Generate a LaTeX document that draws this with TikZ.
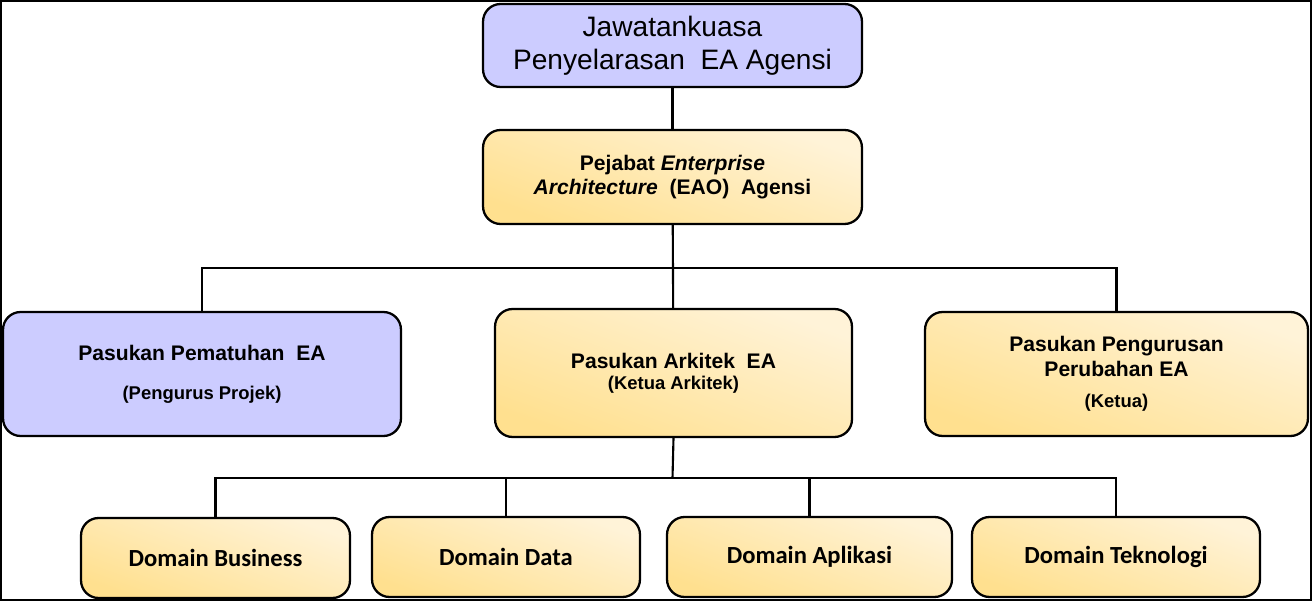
\documentclass[tikz,border=0pt]{standalone}
\usepackage{fontspec}
\setmainfont{Liberation Sans}
\newfontfamily\calib{Carlito}
\definecolor{lilac}{HTML}{CCCCFF}
\definecolor{sandlight}{HTML}{FFF3D8}
\definecolor{sanddark}{HTML}{FFE08F}

\begin{document}
\begin{tikzpicture}[x=0.02cm,y=-0.02cm,
  box/.style={draw=black, line width=1.3pt, rounded corners=10pt, align=center, inner sep=2pt},
  lilacbox/.style={box, fill=lilac},
  sandbox/.style={box, top color=sandlight, bottom color=sanddark, shading angle=-20},
  team/.style={font=\bfseries\fontsize{12}{14}\selectfont},
  domainbox/.style={sandbox, minimum height=1.6cm, font=\calib\bfseries\fontsize{14}{16}\selectfont},
  link/.style={line width=1.2pt}]
\useasboundingbox (0,0) rectangle (1312,601);
\fill[white] (0,0) rectangle (1312,601);
\draw[line width=2.6pt] (0,0) rectangle (1312,601);

% top levels
\node[lilacbox, minimum width=7.58cm, minimum height=1.66cm,
  font=\fontsize{16}{18.5}\selectfont] (jk) at (672.5,45.5)
  {Jawatankuasa\\Penyelarasan \ EA Agensi};
\node[sandbox, team, minimum width=7.58cm, minimum height=1.88cm] (eao) at (672.5,177)
  {Pejabat \textit{Enterprise}\\\textit{Architecture} \ (EAO) \ Agensi};

% teams
\node[lilacbox, team, minimum width=7.96cm, minimum height=2.48cm] (pematuhan) at (202,374)
  {Pasukan Pematuhan \ EA\\[8pt]{\fontsize{10.5}{12}\selectfont (Pengurus Projek)}};
\node[sandbox, team, minimum width=7.14cm, minimum height=2.56cm] (arkitek) at (673.5,373)
  {Pasukan Arkitek \ EA\\[-2pt]{\fontsize{10.5}{12}\selectfont (Ketua Arkitek)}};
\node[sandbox, team, minimum width=7.66cm, minimum height=2.48cm] (pengurusan) at (1116.5,374)
  {Pasukan Pengurusan\\Perubahan EA\\[4pt]{\fontsize{10.5}{12}\selectfont (Ketua)}};

% domains
\node[domainbox, minimum width=5.38cm] (dbusiness) at (215.5,558) {Domain Business};
\node[domainbox, minimum width=5.36cm] (ddata) at (506,557) {Domain Data};
\node[domainbox, minimum width=5.7cm] (daplikasi) at (809.5,557) {Domain Aplikasi};
\node[domainbox, minimum width=5.76cm] (dteknologi) at (1116,557) {Domain Teknologi};

\coordinate (teambus) at (672.5,268);
\coordinate (domainbus) at (672.5,478);

\draw[link] (jk) -- (eao);
\draw[link] (eao) -- (arkitek);
\draw[link] (pematuhan.north) |- (teambus) -| (pengurusan.north);
\draw[link] (arkitek.south) -- (domainbus);
\foreach \d in {dbusiness,ddata,daplikasi,dteknologi}
\draw[link] (\d.north) |- (domainbus);
\end{tikzpicture}
\end{document}
